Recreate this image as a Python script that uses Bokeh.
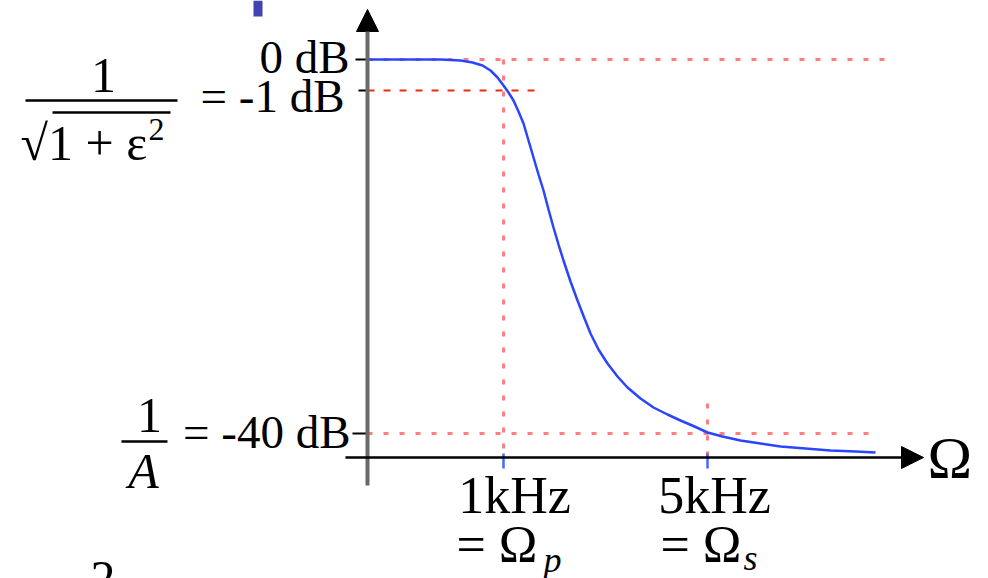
from bokeh.plotting import figure
from bokeh.models import Range1d, Arrow, NormalHead
from bokeh.core.properties import value
from bokeh.embed import file_html
from bokeh.resources import INLINE

# ---- diagram data (schematic coordinates of the original figure) ----
# Filter response curve (attenuation vs. frequency)
curve_x = [367, 400, 440, 460, 472, 482, 490, 497, 503, 508, 513, 518, 523, 528, 533,
           538, 543, 548, 553, 558, 563, 570, 577, 584, 590, 598, 607, 617, 627, 640,
           653, 667, 680, 694, 707, 722, 740, 760, 780, 805, 830, 855, 875]
curve_y = [59, 59, 59, 60, 62, 65, 70, 77, 85, 92, 100, 111, 123, 140, 157,
           174, 190, 209, 227, 244, 260, 281, 300, 318, 333, 349, 363, 376, 387, 398,
           407, 414, 420, 426, 432, 436, 440, 443, 446, 448, 450, 451, 452]

# level lines: 0 dB, -1 dB, -40 dB
level_names = ["0 dB", "= -1 dB", "= -40 dB"]
level_y = [59, 90, 433]
level_end = [890, 537, 872]

# frequency markers: 1 kHz = Omega_p, 5 kHz = Omega_s
freq_names = ["1kHz", "5kHz"]
freq_x = [503, 707]
freq_top = [59, 403]
freq_sub = ["p", "s"]

# axes
origin_x, origin_y = 367, 457
yaxis_top, yaxis_bottom = 9, 485
xaxis_left, xaxis_right = 345, 923

SERIF = value("Liberation Serif")
SHIFT = 0.35  # baseline correction (fraction of font size)


def label(xs, ys, texts, size, align="left", style="normal"):
    p.text(x=xs, y=[y - SHIFT * size for y in ys], text=texts, text_font=SERIF,
           text_font_size=f"{size}px", text_font_style=style, text_align=align,
           text_baseline="alphabetic", text_color="black")


p = figure(width=988, height=578, output_backend="svg", toolbar_location=None,
           x_range=Range1d(0, 988), y_range=Range1d(578, 0),
           min_border=0, outline_line_color=None)
p.axis.visible = False
p.grid.visible = False
p.background_fill_color = "white"
p.border_fill_color = "white"

# small blue block at top
p.quad(left=[253], right=[262], top=[0], bottom=[16], fill_color="#4343b0", line_color=None)

# dotted reference lines (0 dB and -40 dB horizontal)
p.segment(x0=[origin_x, origin_x], y0=[level_y[0], level_y[2]],
          x1=[level_end[0], level_end[2]], y1=[level_y[0], level_y[2]],
          line_color="#ff7f7f", line_width=3, line_dash="5 11")
# dashed -1 dB line
p.segment(x0=[origin_x], y0=[level_y[1]], x1=[level_end[1]], y1=[level_y[1]],
          line_color="#ee2a10", line_width=2, line_dash="7 9")
# vertical dotted lines at frequencies
p.segment(x0=freq_x, y0=freq_top, x1=freq_x, y1=[origin_y, origin_y],
          line_color="#ff7f7f", line_width=3, line_dash="5 11")

# blue ticks on the frequency axis
p.segment(x0=freq_x, y0=[origin_y - 4] * 2, x1=freq_x, y1=[origin_y + 11] * 2,
          line_color="#4a66ff", line_width=2.5)

# axes
p.add_layout(Arrow(x_start=origin_x, y_start=yaxis_bottom, x_end=origin_x, y_end=yaxis_top,
                   line_color="#6a6a6a", line_width=4,
                   end=NormalHead(size=22, fill_color="black", line_color="black")))
p.add_layout(Arrow(x_start=xaxis_left, y_start=origin_y, x_end=xaxis_right, y_end=origin_y,
                   line_color="black", line_width=2.5,
                   end=NormalHead(size=22, fill_color="black", line_color="black")))

# y-axis ticks
p.segment(x0=[355, 358, 352], y0=level_y, x1=[origin_x] * 3, y1=level_y,
          line_color="black", line_width=2)

# response curve
p.line(curve_x, curve_y, line_color="#2a44ff", line_width=2.5)

# level labels
label([349, 344, 350], [73, 112, 448], level_names, 47, align="right")

# fraction 1 / sqrt(1 + eps^2)
label([103], [92], ["1"], 50, align="center")
p.segment(x0=[25, 52, 121], y0=[100, 112, 441], x1=[177, 170, 167], y1=[100, 112, 441],
          line_color="black", line_width=2.5)
label([20], [160], ["√1 + ε"], 50)
label([148], [140], ["2"], 32)

# fraction 1 / A
label([149], [432], ["1"], 50, align="center")
label([143], [488], ["A"], 50, align="center", style="italic")

# frequency labels
label([514, 714], [513, 513], freq_names, 52, align="center")
label([456, 660], [562, 562], ["= Ω", "= Ω"], 52)
label([543, 743], [572, 570], freq_sub, 36, style="italic")

# axis label
label([927], [478], ["Ω"], 60)

# cut-off "2" at the bottom
label([90], [595], ["2"], 50)

open("out.html", "w").write(file_html(p, INLINE))
